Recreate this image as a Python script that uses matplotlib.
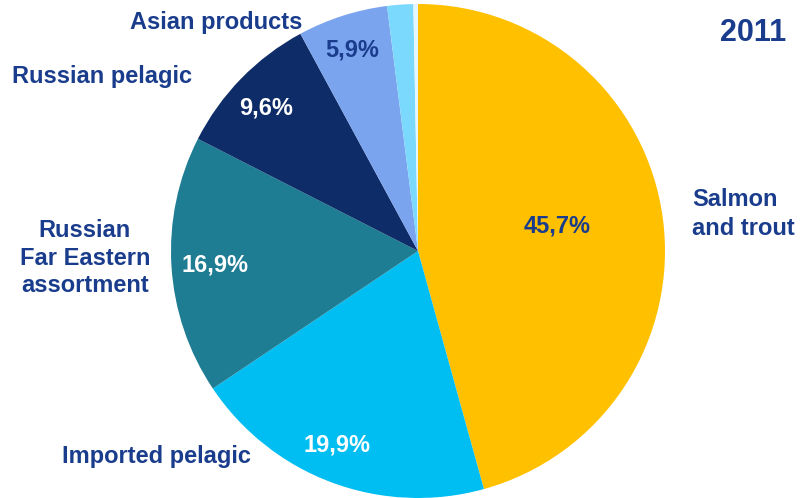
import matplotlib
matplotlib.use("Agg")
import matplotlib.pyplot as plt

# Market shares, 2011 (%), clockwise from 12 o'clock
categories = ["Salmon\nand trout", "Imported pelagic", "Russian\nFar Eastern\nassortment",
              "Russian pelagic", "Asian products", "Other", "Misc"]
shares = [45.7, 19.9, 16.9, 9.6, 5.9, 1.7, 0.3]
share_labels = ["45,7%", "19,9%", "16,9%", "9,6%", "5,9%", "", ""]
year = "2011"

colors = ["#FFC000", "#00BDF2", "#1E7C93", "#0E2C68", "#7BA4EE", "#7CD9FE", "#E4F6FF"]
pct_colors = ["#1A3C8C", "white", "white", "white", "#1A3C8C", "white", "white"]
label_color = "#1A3C8C"

W, H = 800, 498
fig = plt.figure(figsize=(W / 100, H / 100), dpi=100)
ax = fig.add_axes([0, 0, 1, 1])

cx, cy, r = 418, H - 251, 247
ax.pie(shares, colors=colors, startangle=90, counterclock=False,
       center=(cx, cy), radius=r, frame=True,
       wedgeprops=dict(linewidth=0))
ax.set_xlim(0, W)
ax.set_ylim(0, H)
ax.set_aspect("equal")
ax.axis("off")

font = "Liberation Sans"

# Percentage labels inside the slices
pct_pos = [(557, 226), (337, 445), (215, 265), (266, 108), (352, 50)]
for (x, y), txt, c in zip(pct_pos, share_labels, pct_colors):
    ax.text(x, H - y, txt, ha="center", va="center", color=c,
            fontsize=17, fontweight="bold", family=font)

# Category labels around the pie
outer = [
    (categories[0], 692, 214, "left", 1.35),
    (categories[1], 157, 456, "center", 1.2),
    (categories[2], 85, 258, "center", 1.25),
    (categories[3], 102, 76, "center", 1.2),
    (categories[4], 216, 22, "center", 1.2),
]
for txt, x, y, ha, ls in outer:
    ax.text(x, H - y, txt, ha=ha, va="center", color=label_color,
            fontsize=17, fontweight="bold", family=font, linespacing=ls,
            multialignment="center" if ha == "center" else "left")

ax.text(753, H - 33, year, ha="center", va="center", color=label_color,
        fontsize=22, fontweight="bold", family=font)

fig.savefig("out.png", dpi=100)
